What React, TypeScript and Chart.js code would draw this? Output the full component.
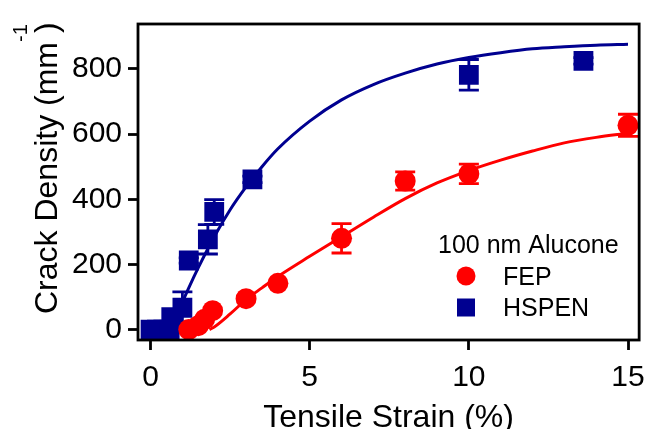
import React, { useEffect, useRef } from 'react';
import { Chart, registerables } from 'chart.js';

Chart.register(...registerables);

// ---- Data ----
const fepStrain = [1.2, 1.5, 1.7, 1.95, 3.0, 4.0, 6.0, 8.0, 10.0, 15.0];
const fepDensity = [0, 12, 32, 58, 95, 142, 280, 456, 478, 627];
const fepError = [0, 0, 0, 0, 0, 0, 45, 28, 30, 34];

const hspenStrain = [0, 0.2, 0.4, 0.6, 0.65, 1.0, 1.2, 1.8, 2.0, 3.2, 10.0, 13.6];
const hspenDensity = [0, 0, 0, 0, 38, 67, 212, 277, 361, 461, 782, 825];
const hspenError = [0, 0, 0, 0, 0, 49, 8, 45, 38, 10, 47, 10];

// fitted curves
const fepFitStrain = [1.85, 2.0, 2.5, 3.0, 3.5, 4.0, 5.0, 6.0, 7.0, 8.0, 9.0, 10.0, 11.0, 12.0, 13.0, 14.0, 15.0];
const fepFitDensity = [0, 8, 48, 92, 128, 163, 225, 285, 345, 402, 450, 488, 520, 548, 573, 590, 603];

const hspenFitStrain = [0.62, 0.8, 1.0, 1.2, 1.5, 2.0, 2.5, 3.0, 3.5, 4.0, 5.0, 6.0, 7.0, 8.0, 9.0, 10.0, 11.0, 12.0, 13.0, 14.0, 15.0];
const hspenFitDensity = [0, 40, 84, 128, 190, 285, 368, 438, 500, 555, 640, 705, 752, 787, 815, 835, 850, 862, 868, 873, 876];

const xTicks = [0, 5, 10, 15];
const yTicks = [0, 200, 400, 600, 800];

const legendTitle = '100 nm Alucone';
const seriesNames = ['FEP', 'HSPEN'];
const xTitle = 'Tensile Strain (%)';
const yTitleMain = 'Crack Density (mm';
const yTitleSup = '-1';
const yTitleEnd = ' )';

const RED = '#FF0000';
const NAVY = '#000090';
const FONT = '"Liberation Sans", Arial, sans-serif';

const zip = (xs: number[], ys: number[]) => xs.map((x, i) => ({ x, y: ys[i] }));

const decorPlugin = {
  id: 'decor',
  beforeDatasetsDraw(chart: any) {
    const ctx = chart.ctx;
    const xs = chart.scales.x;
    const ys = chart.scales.y;
    chart.data.datasets.forEach((ds: any) => {
      if (!ds.errors) return;
      ctx.save();
      ctx.strokeStyle = ds.backgroundColor;
      ctx.lineWidth = 2.8;
      ds.data.forEach((p: any, i: number) => {
        const e = ds.errors[i];
        if (!e) return;
        const px = xs.getPixelForValue(p.x);
        const top = ys.getPixelForValue(p.y + e);
        const bot = ys.getPixelForValue(p.y - e);
        ctx.beginPath();
        ctx.moveTo(px, top);
        ctx.lineTo(px, bot);
        ctx.moveTo(px - 10, top);
        ctx.lineTo(px + 10, top);
        ctx.moveTo(px - 10, bot);
        ctx.lineTo(px + 10, bot);
        ctx.stroke();
      });
      ctx.restore();
    });
  },
  afterDraw(chart: any) {
    const ctx = chart.ctx;
    const a = chart.chartArea;
    ctx.save();
    // frame
    ctx.strokeStyle = '#000';
    ctx.lineWidth = 2.8;
    ctx.strokeRect(a.left, a.top, a.right - a.left, a.bottom - a.top);

    ctx.fillStyle = '#000';
    // x title
    ctx.font = `32px ${FONT}`;
    ctx.textAlign = 'center';
    ctx.textBaseline = 'alphabetic';
    ctx.fillText(xTitle, (a.left + a.right) / 2, 426.5);

    // y title
    ctx.save();
    ctx.translate(57, 314);
    ctx.rotate(-Math.PI / 2);
    ctx.textAlign = 'left';
    ctx.font = `32px ${FONT}`;
    ctx.fillText(yTitleMain, 0, 0);
    const w = ctx.measureText(yTitleMain).width;
    ctx.fillText(yTitleEnd, w, 0);
    ctx.font = `20px ${FONT}`;
    ctx.fillText(yTitleSup, w, -30);
    ctx.restore();

    // legend
    ctx.textAlign = 'left';
    ctx.font = `25px ${FONT}`;
    ctx.fillText(legendTitle, 438, 253);
    ctx.fillStyle = RED;
    ctx.beginPath();
    ctx.arc(466, 276, 9.5, 0, Math.PI * 2);
    ctx.fill();
    ctx.fillStyle = NAVY;
    ctx.fillRect(457, 298.5, 18, 18);
    ctx.fillStyle = '#000';
    ctx.fillText(seriesNames[0], 503, 285);
    ctx.fillText(seriesNames[1], 503, 316);
    ctx.restore();
  },
};

export default function App() {
  const ref = useRef<HTMLCanvasElement>(null);
  useEffect(() => {
    const canvas = ref.current;
    if (!canvas) return;
    Chart.defaults.font.family = FONT;
    const chart = new Chart(canvas, {
      type: 'scatter',
      data: {
        datasets: [
          {
            label: seriesNames[1] + ' fit',
            data: zip(hspenFitStrain, hspenFitDensity),
            showLine: true,
            borderColor: NAVY,
            backgroundColor: NAVY,
            borderWidth: 3,
            pointRadius: 0,
            cubicInterpolationMode: 'monotone',
            order: 3,
          } as any,
          {
            label: seriesNames[0] + ' fit',
            data: zip(fepFitStrain, fepFitDensity),
            showLine: true,
            borderColor: RED,
            backgroundColor: RED,
            borderWidth: 3,
            pointRadius: 0,
            cubicInterpolationMode: 'monotone',
            order: 4,
          } as any,
          {
            label: seriesNames[1],
            data: zip(hspenStrain, hspenDensity),
            errors: hspenError,
            pointStyle: 'rect',
            pointRadius: 14,
            backgroundColor: NAVY,
            borderColor: NAVY,
            borderWidth: 0,
            order: 2,
          } as any,
          {
            label: seriesNames[0],
            data: zip(fepStrain, fepDensity),
            errors: fepError,
            pointStyle: 'circle',
            pointRadius: 10.5,
            backgroundColor: RED,
            borderColor: RED,
            borderWidth: 0,
            order: 1,
          } as any,
        ],
      },
      options: {
        responsive: false,
        animation: false,
        devicePixelRatio: 1,
        layout: { padding: { left: 0, top: 16, right: 7, bottom: 0 } },
        plugins: { legend: { display: false }, tooltip: { enabled: false } },
        scales: {
          x: {
            type: 'linear',
            min: -0.395,
            max: 15.35,
            afterFit: (s: any) => {
              s.height = 89;
            },
            afterBuildTicks: (s: any) => {
              s.ticks = xTicks.map((v) => ({ value: v }));
            },
            grid: {
              display: true,
              drawOnChartArea: false,
              drawTicks: true,
              tickLength: 10,
              tickWidth: 2.8,
              tickColor: '#000',
              color: '#000',
            },
            border: { display: false },
            ticks: {
              padding: 10,
              color: '#000',
              maxRotation: 0,
              font: { size: 30, family: FONT },
              callback: (v: any) => String(v),
            },
          },
          y: {
            type: 'linear',
            min: -32,
            max: 938,
            afterFit: (s: any) => {
              s.width = 138;
            },
            afterBuildTicks: (s: any) => {
              s.ticks = yTicks.map((v) => ({ value: v }));
            },
            grid: {
              display: true,
              drawOnChartArea: false,
              drawTicks: true,
              tickLength: 10,
              tickWidth: 2.8,
              tickColor: '#000',
              color: '#000',
            },
            border: { display: false },
            ticks: {
              padding: 6,
              color: '#000',
              font: { size: 30, family: FONT },
              callback: (v: any) => String(v),
            },
          },
        },
      },
      plugins: [decorPlugin],
    });
    return () => chart.destroy();
  }, []);

  return (
    <div style={{ position: 'absolute', left: 0, top: 0, width: 655, height: 429, background: '#fff' }}>
      <canvas ref={ref} width={655} height={429} style={{ width: 655, height: 429, display: 'block' }} />
    </div>
  );
}
